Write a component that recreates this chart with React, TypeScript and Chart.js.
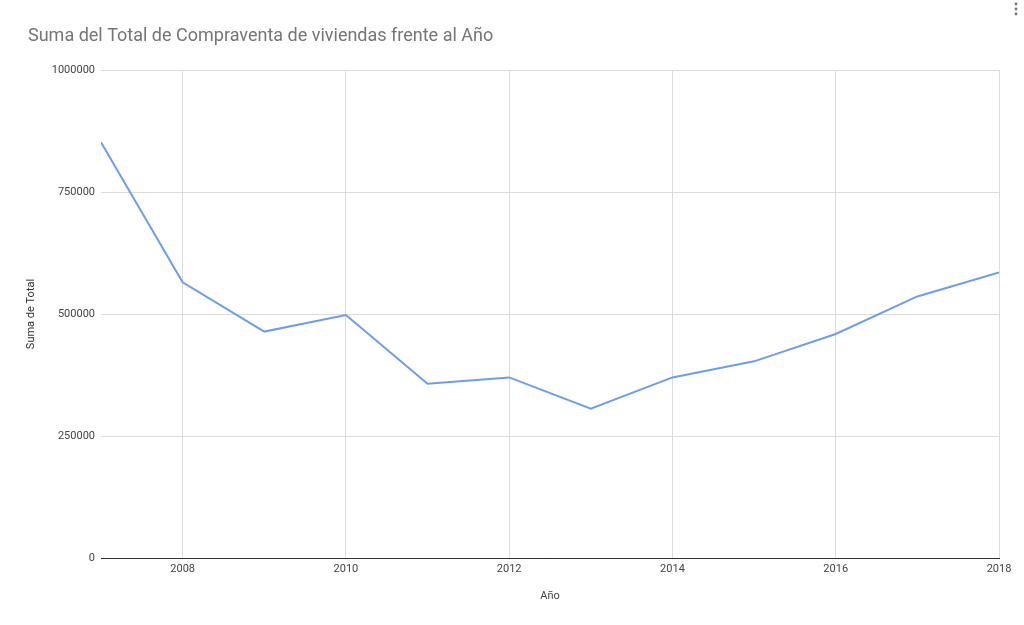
import React, { useEffect, useRef } from "react";
import { Chart, registerables } from "chart.js";

Chart.register(...registerables);

const chartTitle = "Suma del Total de Compraventa de viviendas frente al Año";
const yAxisTitle = "Suma de Total";
const xAxisTitle = "Año";
const years = [2007, 2008, 2009, 2010, 2011, 2012, 2013, 2014, 2015, 2016, 2017, 2018];
const totals = [852000, 565000, 464000, 498000, 357000, 370000, 306000, 370000, 403000, 459000, 536000, 585000];
const yTickValues = [0, 250000, 500000, 750000, 1000000];
const xTickYears = [2008, 2010, 2012, 2014, 2016, 2018];

const FONT = "Roboto, Arial, sans-serif";

const titlePlugin = {
  id: "sheetTitle",
  afterDraw(chart: any) {
    const ctx = chart.ctx;
    ctx.save();
    ctx.fillStyle = "#757575";
    ctx.font = `18px ${FONT}`;
    ctx.textAlign = "left";
    ctx.textBaseline = "alphabetic";
    ctx.fillText(chartTitle, 28, 41);
    // menu dots
    ctx.fillStyle = "#777";
    for (let i = 0; i < 3; i++) {
      ctx.beginPath();
      ctx.arc(1016, 4 + i * 5, 1.4, 0, Math.PI * 2);
      ctx.fill();
    }
    ctx.restore();
  },
};

export default function App() {
  const ref = useRef<HTMLCanvasElement | null>(null);
  useEffect(() => {
    if (!ref.current) return;
    const chart = new Chart(ref.current, {
      type: "line",
      data: {
        datasets: [
          {
            data: years.map((x, i) => ({ x, y: totals[i] })),
            borderColor: "#6d9eeb",
            backgroundColor: "#6d9eeb",
            borderWidth: 2,
            pointRadius: 0,
            tension: 0,
          },
        ],
      },
      options: {
        responsive: false,
        animation: false,
        layout: { padding: { top: 70, left: 20, right: 25, bottom: 0 } },
        plugins: {
          legend: { display: false },
          tooltip: { enabled: false },
          title: { display: false },
        },
        scales: {
          x: {
            type: "linear",
            min: 2007,
            max: 2018,
            afterBuildTicks: (axis: any) => {
              axis.ticks = xTickYears.map((v) => ({ value: v }));
            },
            afterFit: (axis: any) => {
              axis.height = 67;
            },
            ticks: {
              callback: (v: any) => String(v),
              font: { family: FONT, size: 11 },
              color: "#444",
              padding: 5,
              maxRotation: 0,
              autoSkip: false,
            },
            grid: { color: "#dcdcdc", drawTicks: false, lineWidth: 1 },
            border: { display: true, color: "#333", width: 1 },
            title: {
              display: true,
              text: xAxisTitle,
              font: { family: FONT, size: 11 },
              color: "#444",
              padding: { top: 0, bottom: 22 },
            },
          },
          y: {
            min: 0,
            max: 1000000,
            afterBuildTicks: (axis: any) => {
              axis.ticks = yTickValues.map((v) => ({ value: v }));
            },
            afterFit: (axis: any) => {
              axis.width = 81;
            },
            ticks: {
              callback: (v: any) => String(v),
              font: { family: FONT, size: 11 },
              color: "#444",
              padding: 6,
            },
            grid: {
              color: (c: any) => (c.tick && c.tick.value === 0 ? "#333" : "#dcdcdc"),
              drawTicks: false,
            },
            border: { display: false },
            title: {
              display: true,
              text: yAxisTitle,
              font: { family: FONT, size: 11 },
              color: "#333",
              padding: { top: 5, bottom: 0 },
            },
          },
        },
      },
      plugins: [titlePlugin],
    } as any);
    return () => chart.destroy();
  }, []);
  return (
    <div style={{ position: "absolute", left: 0, top: 0, width: 1024, height: 625, background: "#fff" }}>
      <canvas ref={ref} width={1024} height={625} />
    </div>
  );
}
